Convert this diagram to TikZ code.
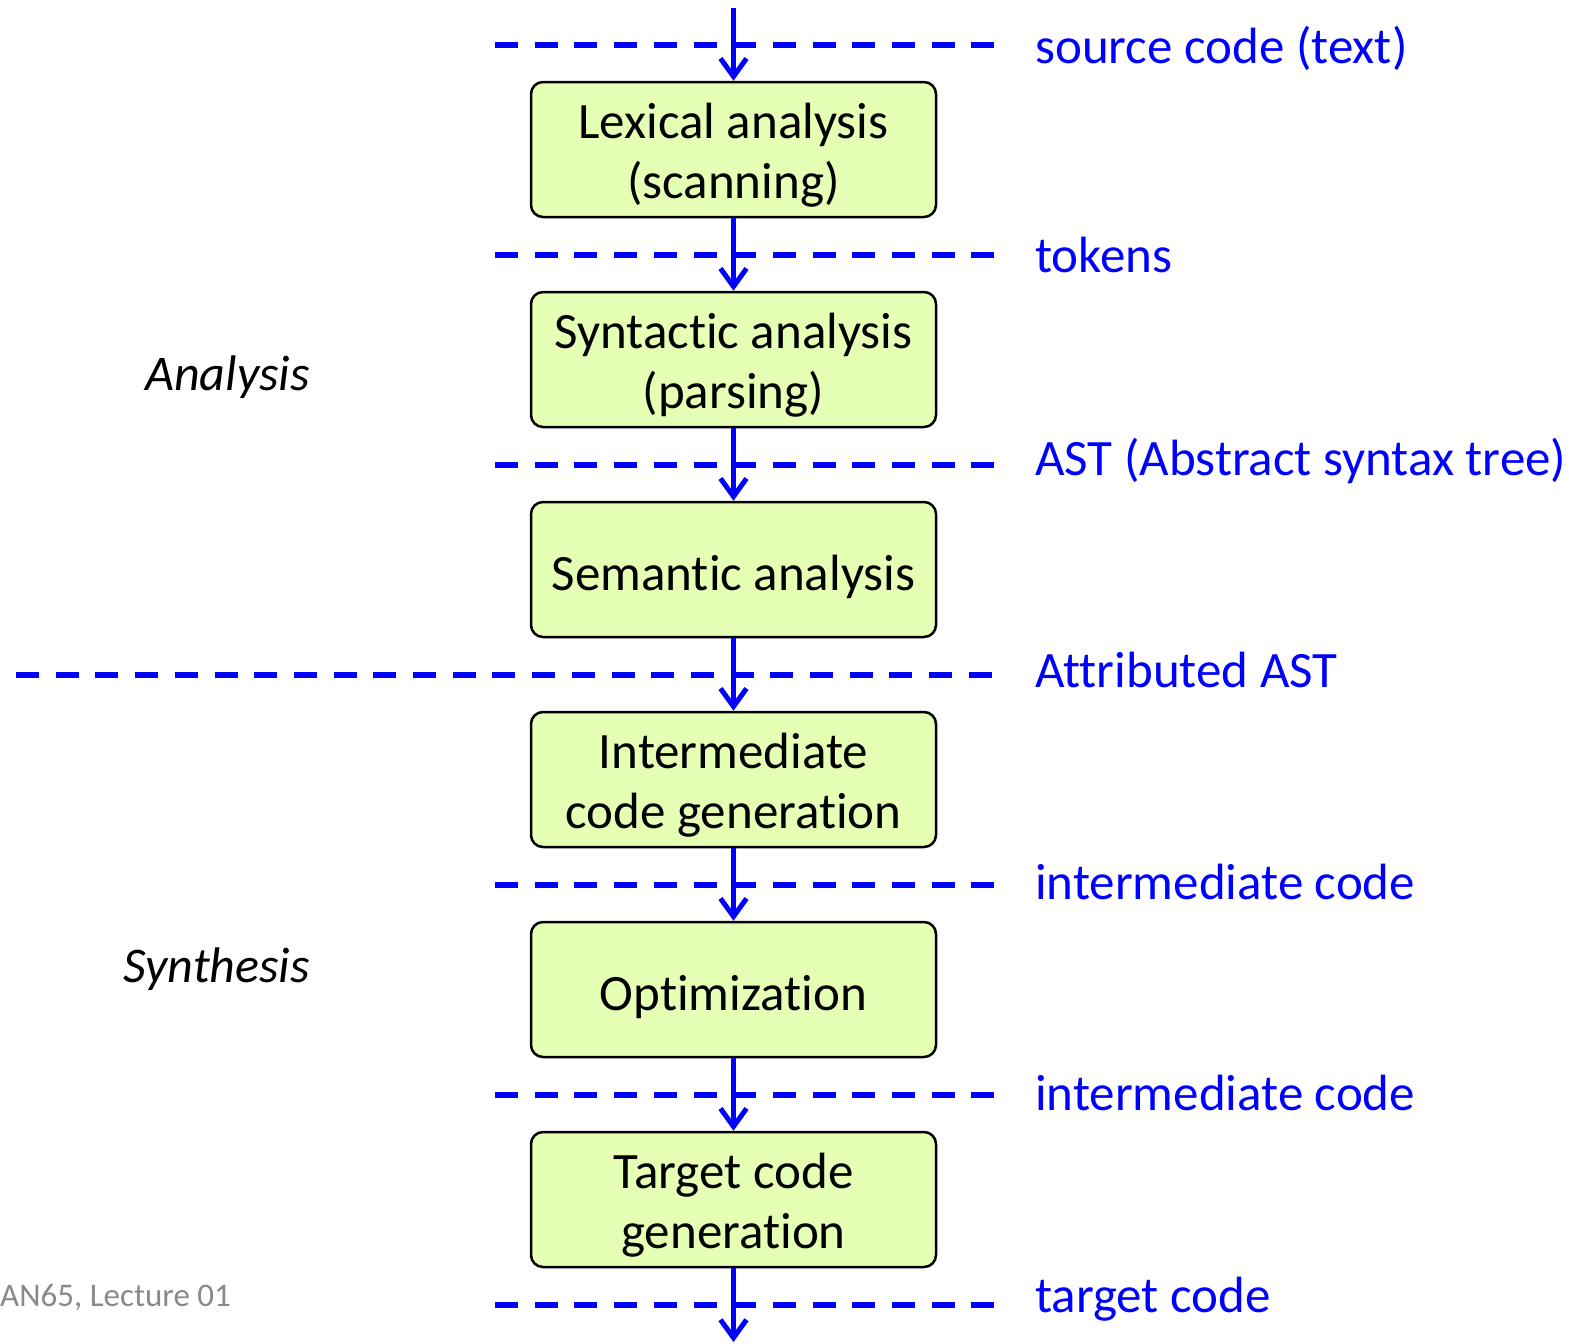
\documentclass[tikz,border=0pt]{standalone}
\usepackage{fontspec}
\setmainfont{Carlito}[Ligatures=NoCommon]
\usepackage{tikz}
\usetikzlibrary{arrows.meta,positioning}
\definecolor{phasefill}{RGB}{229,255,180}
\definecolor{footgray}{RGB}{137,137,137}
\tikzset{%
	phase/.style    = {draw, rectangle, rounded corners=12pt, line width=2.5pt, fill=phasefill, minimum width=405pt, minimum height=135pt, inner sep=0pt, align=center, font=\fontsize{51}{60}\selectfont, text height=50pt}, % compiler phase
	phasetwo/.style = {phase, text height=106pt}, % two lines of text
	flow/.style     = {line width=5pt, draw=blue, -{Straight Barb[length=18pt,width=26pt]}},
	cut/.style      = {line width=5.5pt, draw=blue, dash pattern=on 23pt off 16.7pt}, % separator
	repr/.style     = {text=blue, anchor=base west, inner sep=0pt, font=\fontsize{51}{60}\selectfont}, % representation
	part/.style     = {anchor=base east, inner sep=0pt, font=\fontsize{50}{58}\selectfont\itshape},
	foot/.style     = {text=footgray, anchor=base west, inner sep=0pt, font=\fontsize{33}{40}\selectfont},
}

\begin{document}
\begin{tikzpicture}[x=1pt, y=-1pt, node distance = 72.5pt]
	\useasboundingbox (0,0) rectangle (1569,1344);
	\node[phasetwo] (lex) at (733.5,149.5) {Lexical analysis\\(scanning)};
	\node[phasetwo,below=of lex] (syn) {Syntactic analysis\\(parsing)};
	\node[phase,below=of syn] (sem) {Semantic analysis};
	\node[phasetwo,below=of sem] (icg) {Intermediate\\code generation};
	\node[phase,below=of icg] (opt) {Optimization};
	\node[phasetwo,below=of opt] (tcg) {Target code\\generation};
	\coordinate (top) at (733.5,8);
	\coordinate (bot) at (733.5,1342);
	
	% separators
	\draw[cut] (495,45) -- (995,45);
	\draw[cut] (495,255) -- (995,255);
	\draw[cut] (495,465) -- (995,465);
	\draw[cut] (16,675) -- (995,675);
	\draw[cut] (495,885) -- (995,885);
	\draw[cut] (495,1095) -- (995,1095);
	\draw[cut] (495,1305) -- (995,1305);
	
	\draw[flow] (top) -- (lex);
	\draw[flow] (lex) -- (syn);
	\draw[flow] (syn) -- (sem);
	\draw[flow] (sem) -- (icg);
	\draw[flow] (icg) -- (opt);
	\draw[flow] (opt) -- (tcg);
	\draw[flow] (tcg) -- (bot);
	
	\node[repr] (src) at (1035,63) {source code (text)};
	\node[repr] (tok) at (1035,272) {tokens};
	\node[repr] (ast) at (1035,475) {AST (Abstract syntax tree)};
	\node[repr] (aast) at (1035,687) {Attributed AST};
	\node[repr] (ir1) at (1035,899) {intermediate code};
	\node[repr] (ir2) at (1035,1110) {intermediate code};
	\node[repr] (tgt) at (1035,1312) {target code};
	
	\node[part] (ana) at (310,390) {Analysis};
	\node[part] (syh) at (310,982) {Synthesis};
	\node[foot] (ft) at (0,1306) {AN65, Lecture 01};
\end{tikzpicture}
\end{document}
